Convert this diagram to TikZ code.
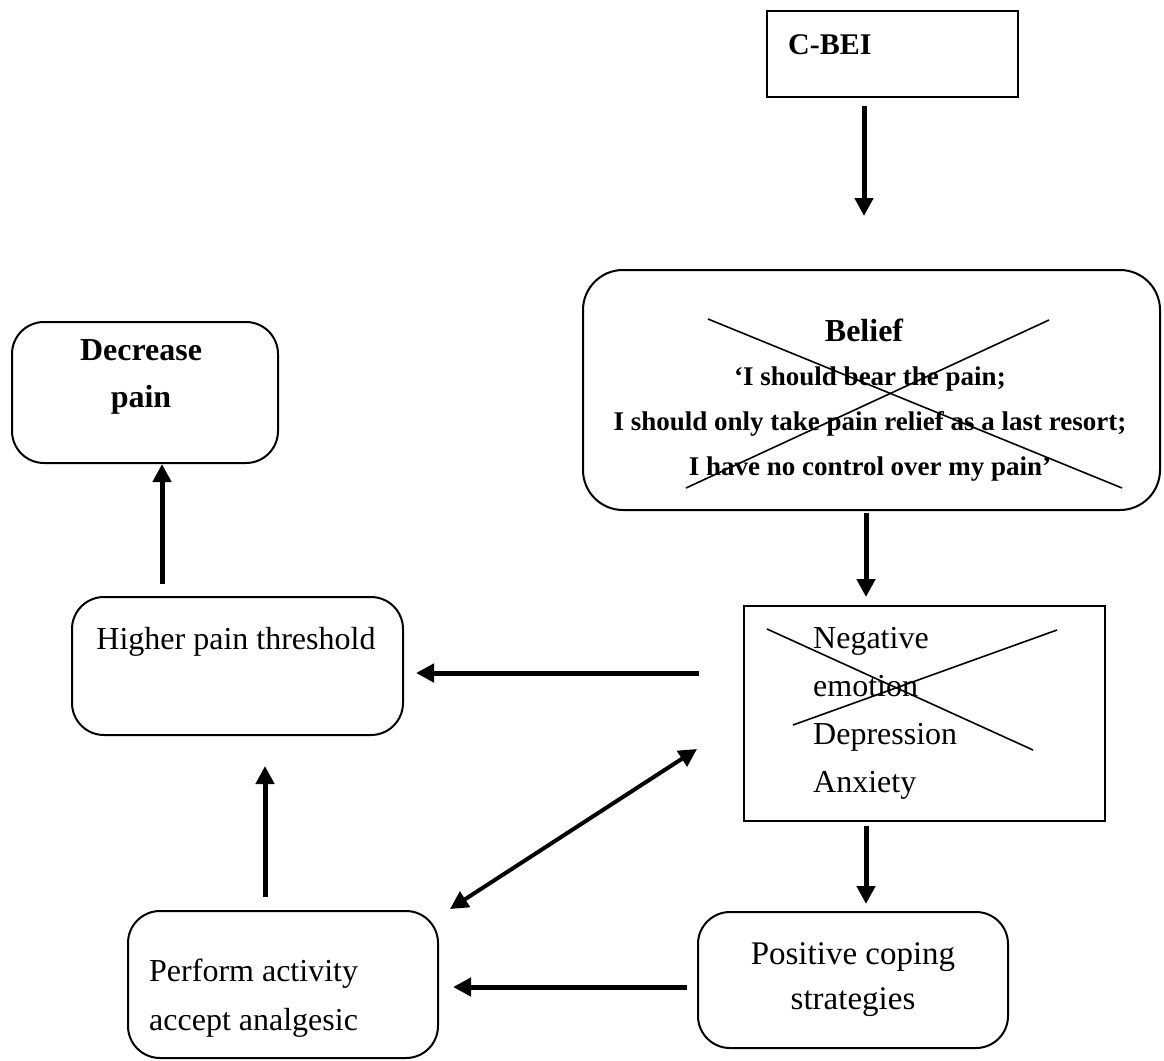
\documentclass[tikz,border=0pt]{standalone}
\usepackage{fontspec}
\setmainfont{Liberation Serif}
\usetikzlibrary{arrows.meta}
\begin{document}
\begin{tikzpicture}[x=1pt,y=-1pt,
  sq/.style={draw, line width=2pt, inner sep=0pt},
  rbox/.style={sq, rounded corners=32pt},
  txt/.style={inner sep=0pt, align=center, font=\fontsize{32}{48}\selectfont},
  bold/.style={inner sep=0pt, align=center, font=\bfseries\fontsize{32}{47}\selectfont},
  conn/.style={line width=5pt, -{Triangle[length=18pt,width=18pt]}},
  twoway/.style={line width=4pt, {Triangle[length=18pt,width=18pt]}-{Triangle[length=18pt,width=18pt]}},
  strike/.style={line width=1.6pt},
]
\useasboundingbox (0,0) rectangle (1164,1060);

% boxes
\node[sq, minimum width=251pt, minimum height=86pt] (cbei) at (892.5,54) {};
\node[rbox, rounded corners=40pt, minimum width=577pt, minimum height=240pt] (belief) at (871.5,390) {};
\node[sq, minimum width=361pt, minimum height=215pt] (neg) at (924.5,713.5) {};
\node[rbox, minimum width=310pt, minimum height=136pt] (pos) at (853,980) {};
\node[rbox, minimum width=310pt, minimum height=147pt] (perform) at (283,984.5) {};
\node[rbox, minimum width=331pt, minimum height=138pt] (higher) at (237.5,666) {};
\node[rbox, minimum width=266pt, minimum height=141pt] (decrease) at (145,392.5) {};

% texts
\node[bold, font=\bfseries\fontsize{30}{36}\selectfont, anchor=west] (cbeitxt) at (788,45) {C-BEI};
\node[bold] (belieftitle) at (864,330) {Belief};
\node[bold, font=\bfseries\fontsize{27}{45}\selectfont] (belieftxt) at (870,424)
  {`I should bear the pain;\\ I should only take pain relief as a last resort;\\ I have no control over my pain'};
\node[txt, align=left, anchor=west] (negtxt) at (813,713)
  {Negative\\ emotion\\ Depression\\ Anxiety};
\node[txt, font=\fontsize{33}{45}\selectfont] (postxt) at (853,980) {Positive coping\\ strategies};
\node[txt, align=left, anchor=west, font=\fontsize{32}{49}\selectfont] (performtxt) at (149,998)
  {Perform activity\\ accept analgesic};
\node[txt] (highertxt) at (236,642) {Higher pain threshold};
\node[bold] (decreasetxt) at (141,377) {Decrease\\ pain};

% crossed-out beliefs and emotions
\draw[strike] (708,319) -- (1122,488);
\draw[strike] (1049,320) -- (686,488);
\draw[strike] (767,629) -- (1033,750);
\draw[strike] (793,725) -- (1057,630);

% connectors
\draw[conn] ([shift={(-28.5pt,-8pt)}]cbei.south) -- ([shift={(-7.5pt,53pt)}]belief.north);
\draw[conn] ([shift={(-5.5pt,-2pt)}]belief.south) -- ([shift={(-58.5pt,8pt)}]neg.north);
\draw[conn] ([shift={(-58.5pt,-4pt)}]neg.south) -- ([shift={(13pt,7pt)}]pos.north);
\draw[conn] ([shift={(-44pt,40.5pt)}]neg.west) -- ([shift={(12pt,-7pt)}]higher.east);
\draw[conn] ([shift={(-10pt,-7pt)}]pos.west) -- ([shift={(14pt,-2.5pt)}]perform.east);
\draw[twoway] ([shift={(11pt,1pt)}]perform.north east) -- ([shift={(-46pt,-35.5pt)}]neg.west);
\draw[conn] ([shift={(-18pt,13pt)}]perform.north) -- ([shift={(27.5pt,-30pt)}]higher.south);
\draw[conn] ([shift={(-75.5pt,12pt)}]higher.north) -- ([shift={(17pt,0pt)}]decrease.south);
\end{tikzpicture}
\end{document}
